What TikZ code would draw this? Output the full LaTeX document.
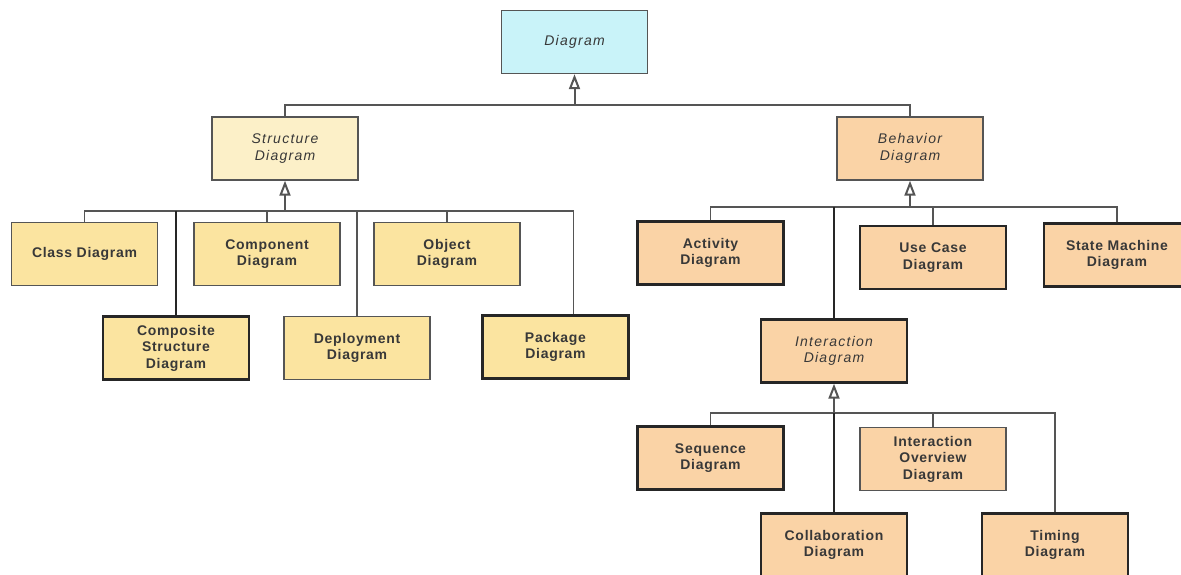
\documentclass[tikz,border=0pt]{standalone}
\usepackage{fontspec}
\setmainfont{Liberation Sans}
\usetikzlibrary{arrows.meta}
\definecolor{dgcyan}{HTML}{C9F3F9}
\definecolor{dgcream}{HTML}{FCF0C8}
\definecolor{dgyellow}{HTML}{FBE4A0}
\definecolor{dgpeach}{HTML}{FAD3A6}
\definecolor{dgline}{HTML}{555555}
\definecolor{dgtext}{HTML}{383838}
\def\abst#1{\itshape\addfontfeatures{LetterSpace=9}#1}
\def\leaf#1{\bfseries\addfontfeatures{LetterSpace=5}#1}

\begin{document}
\begin{tikzpicture}[x=1pt,y=-1pt,
  box/.style={draw=dgline,line width=1.4pt,minimum width=146pt,minimum height=63pt,
    inner sep=0pt,align=center,text=dgtext,font=\fontsize{14}{16.5}\selectfont},
  heavybox/.style={box,draw=black!85,line width=2.4pt},
  conn/.style={draw=dgline,line width=1.5pt},
  thickconn/.style={draw=black!85,line width=2.6pt},
  gen/.style={conn,line width=2pt,-{Triangle[open,length=15pt,width=11pt]}}]
\useasboundingbox (0,0) rectangle (1181,574);

% top
\node[box,fill=dgcyan] (diag) at (574.5,42) {\abst{Diagram}};
\node[box,fill=dgcream] (struct) at (285,148.5) {\abst{Structure}\\\abst{Diagram}};
\node[box,fill=dgpeach] (behav) at (910,148.5) {\abst{Behavior}\\\abst{Diagram}};

% structure side
\node[box,fill=dgyellow] (cls) at (84.5,254) {\leaf{Class Diagram}};
\node[box,fill=dgyellow] (cmpt) at (267,254) {\leaf{Component}\\\leaf{Diagram}};
\node[box,fill=dgyellow] (obj) at (447,254) {\leaf{Object}\\\leaf{Diagram}};
\node[heavybox,fill=dgyellow] (cmps) at (176,348) {\leaf{Composite}\\\leaf{Structure}\\\leaf{Diagram}};
\node[box,fill=dgyellow] (depl) at (357,348) {\leaf{Deployment}\\\leaf{Diagram}};
\node[heavybox,fill=dgyellow] (pkg) at (555.5,347) {\leaf{Package}\\\leaf{Diagram}};

% behavior side
\node[heavybox,fill=dgpeach] (act) at (710.5,253) {\leaf{Activity}\\\leaf{Diagram}};
\node[heavybox,fill=dgpeach] (usec) at (933,257.5) {\leaf{Use Case}\\\leaf{Diagram}};
\node[heavybox,fill=dgpeach] (stm) at (1117,255) {\leaf{State Machine}\\\leaf{Diagram}};
\node[heavybox,fill=dgpeach] (inter) at (834,351) {\abst{Interaction}\\\abst{Diagram}};

% interaction side
\node[heavybox,fill=dgpeach] (seq) at (710.5,458) {\leaf{Sequence}\\\leaf{Diagram}};
\node[box,fill=dgpeach] (iov) at (933,459) {\leaf{Interaction}\\\leaf{Overview}\\\leaf{Diagram}};
\node[heavybox,fill=dgpeach] (coll) at (834,545) {\leaf{Collaboration}\\\leaf{Diagram}};
\node[heavybox,fill=dgpeach] (tim) at (1055,545) {\leaf{Timing}\\\leaf{Diagram}};

\coordinate (dbus) at (574.5,105);
\coordinate (sbus) at (285,211);
\coordinate (bbus) at (910,207);
\coordinate (ibus) at (834,413);

%% connectors
\draw[conn] (struct.north) |- (dbus);
\draw[conn] (behav.north) |- (dbus);
\draw[gen] (dbus) -- (diag.south);

\draw[conn] (cls.north) |- (sbus);
\draw[conn] (cmpt.north) |- (sbus);
\draw[conn] (obj.north) |- (sbus);
\draw[conn] (depl.north) |- (sbus);
\draw[conn] ([xshift=18pt]pkg.north) |- (sbus);
\draw[thickconn] (cmps.north) -- (cmps.north |- sbus);
\draw[gen] (sbus) -- (struct.south);

\draw[conn] (act.north) |- (bbus);
\draw[conn] (usec.north) |- (bbus);
\draw[conn] (stm.north) |- (bbus);
\draw[thickconn] (inter.north) -- (inter.north |- bbus);
\draw[gen] (bbus) -- (behav.south);

\draw[conn] (seq.north) |- (ibus);
\draw[conn] (iov.north) |- (ibus);
\draw[conn] (tim.north) |- (ibus);
\draw[thickconn] (coll.north) -- (ibus); % <- runs on up into the arrow
\draw[gen] (ibus) -- (inter.south);
\end{tikzpicture}
\end{document}
